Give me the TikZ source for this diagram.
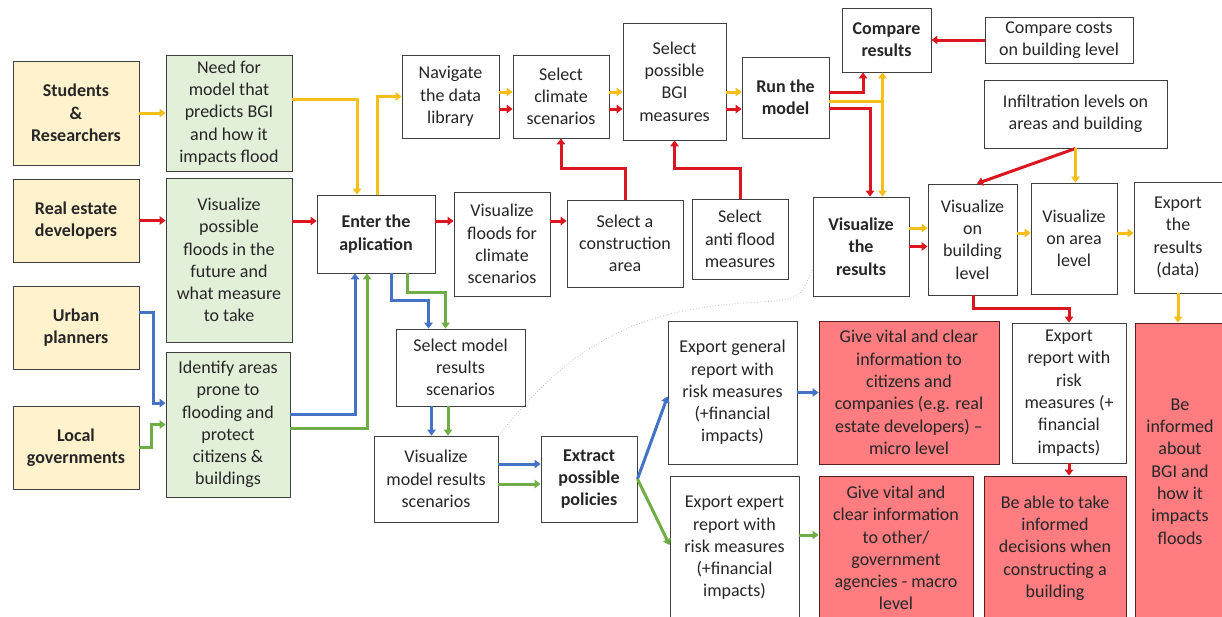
\documentclass[tikz,border=0pt]{standalone}
\usepackage{fontspec}
\setmainfont{Carlito}
\usetikzlibrary{arrows.meta}
\definecolor{actorfill}{HTML}{FFF2CC}
\definecolor{needfill}{HTML}{E2F0D9}
\definecolor{goalfill}{HTML}{FF7C80}
\definecolor{boxline}{HTML}{404040}
\definecolor{goalline}{HTML}{5A2020}
\definecolor{txt}{HTML}{262626}
\definecolor{ylw}{HTML}{F5BE1B}
\definecolor{rd}{HTML}{DA1720}
\definecolor{bl}{HTML}{4472C4}
\definecolor{gr}{HTML}{70AD47}

\begin{document}
\begin{tikzpicture}
	[x=1pt,y=-1pt,
	box/.style={draw=boxline,line width=0.9pt,fill=white,align=center,inner sep=0pt,text=txt,font=\fontsize{18}{22.3}\selectfont},
	actor/.style={box,fill=actorfill,font=\fontsize{18}{22.3}\selectfont\bfseries},
	need/.style={box,fill=needfill},
	goal/.style={box,draw=goalline,fill=goalfill},
	wh/.style 2 args={minimum width=#1pt,minimum height=#2pt},
	link/.style={line width=3pt,-{Triangle[length=6pt,width=8.5pt]}},
	ya/.style={link,ylw},
	ra/.style={link,rd},
	ba/.style={link,bl},
	ga/.style={link,gr},
	dotline/.style={gray!50,dotted,line width=0.8pt}]
	\useasboundingbox (0,0) rectangle (1222,616);

	\node[actor,wh={126}{104}] (stud) at (76,113) {Students\\ \&\\ Researchers};
	\node[actor,wh={126}{83}] (real) at (76,220.5) {Real estate\\ developers};
	\node[actor,wh={126}{83}] (urban) at (76,327.5) {Urban\\ planners};
	\node[actor,wh={126}{83}] (local) at (76,447.5) {Local\\ governments};

	\node[need,wh={126}{116}] (need) at (229,113) {Need for\\ model that\\ predicts BGI\\ and how it\\ impacts flood};
	\node[need,wh={126}{164}] (visfl) at (229,260) {Visualize\\ possible\\ floods in the\\ future and\\ what measure\\ to take};
	\node[need,wh={124}{145}] (ident) at (228,424.5) {Identify areas\\ prone to\\ flooding and\\ protect\\ citizens \&\\ buildings};

	\node[box,wh={118}{78},font=\fontsize{18}{22.3}\selectfont\bfseries] (enter) at (376,234) {Enter the\\ aplication};
	\node[box,wh={97}{83}] (nav) at (450.5,96.5) {Navigate\\ the data\\ library};
	\node[box,wh={96}{83}] (clim) at (561,96.5) {Select\\ climate\\ scenarios};
	\node[box,wh={103}{117}] (bgi) at (674.5,81.5) {Select\\ possible\\ BGI\\ measures};
	\node[box,wh={87}{81},font=\fontsize{18}{22.3}\selectfont\bfseries] (run) at (785.5,97.5) {Run the\\ model};
	\node[box,wh={89}{64},font=\fontsize{18}{22.3}\selectfont\bfseries] (cmpr) at (886.5,40) {Compare\\ results};
	\node[box,wh={148}{46}] (costs) at (1059,40) {Compare costs\\ on building level};
	\node[box,wh={183}{68}] (infil) at (1075.5,114) {Infiltration levels on\\ areas and building};

	\node[box,wh={96}{104}] (vfc) at (502,244) {Visualize\\ floods for\\ climate\\ scenarios};
	\node[box,wh={116}{87}] (constr) at (625,243.5) {Select a\\ construction\\ area};
	\node[box,wh={96}{80}] (anti) at (740,239) {Select\\ anti flood\\ measures};
	\node[box,wh={96}{99},font=\fontsize{18}{22.3}\selectfont\bfseries] (vres) at (861,246.5) {Visualize\\ the\\ results};
	\node[box,wh={89}{111}] (vbld) at (972.5,239.5) {Visualize\\ on\\ building\\ level};
	\node[box,wh={86}{111}] (varea) at (1074,238.5) {Visualize\\ on area\\ level};
	\node[box,wh={88}{111}] (expd) at (1178,237.5) {Export\\ the\\ results\\ (data)};

	\node[box,wh={129}{77}] (selm) at (460.5,367.5) {Select model\\ results\\ scenarios};
	\node[box,wh={124}{86}] (vmr) at (436,479) {Visualize\\ model results\\ scenarios};
	\node[box,wh={96}{86},font=\fontsize{18}{22.3}\selectfont\bfseries] (extr) at (589,479) {Extract\\ possible\\ policies};
	\node[box,wh={129}{143}] (expg) at (732.5,392.5) {Export general\\ report with\\ risk measures\\ (+financial\\ impacts)};
	\node[box,wh={129}{144}] (expe) at (734.5,548) {Export expert\\ report with\\ risk measures\\ (+financial\\ impacts)};
	\node[box,wh={114}{140}] (reprt) at (1069,393) {Export\\ report with\\ risk\\ measures (+\\ financial\\ impacts)};

	\node[goal,wh={180}{143}] (micro) at (909,392.5) {Give vital and clear\\ information to\\ citizens and\\ companies (e.g. real\\ estate developers) --\\ micro level};
	\node[goal,wh={154}{144}] (macro) at (896,548) {Give vital and\\ clear information\\ to other/\\ government\\ agencies - macro\\ level};
	\node[goal,wh={142}{144}] (able) at (1055,548) {Be able to take\\ informed\\ decisions when\\ constructing a\\ building};
	\node[goal,wh={90}{297}] (inform) at (1180,471.5) {Be\\ informed\\ about\\ BGI and\\ how it\\ impacts\\ floods};

	\coordinate (dotend) at (813,268);
	\draw[dotline] (vmr.north east) .. controls (575,340) and (640,308) .. (760,302) .. controls (800,299) .. (dotend);

	\draw[ya] (stud) -- (need);
	\draw[ya] ([yshift=14pt]need.east) -| ([xshift=-19pt]enter.north);
	\draw[ya] ([xshift=1pt]enter.north) |- (nav.west);
	\draw[ra] (real.east) -- (real.east -| visfl.west);
	\draw[ra] ([yshift=13pt]enter.west -| visfl.east) -- ([yshift=13pt]enter.west);
	\draw[ba] ([yshift=15pt]urban.east) -- ++(14,0) |- ([yshift=21.5pt]ident.west);
	\draw[ga] (local.east) -- ++(12,0) |- (ident.west);
	\draw[ba] ([yshift=10pt]ident.east) -| ([xshift=-21pt]enter.south);
	\draw[ga] ([yshift=-3.5pt]ident.east) -| ([xshift=-9pt]enter.south);

	\draw[ra] ([yshift=13pt]enter.east) -- ([yshift=13pt]enter.east -| vfc.west);
	\draw[ra] ([yshift=13pt]enter.east -| vfc.east) -- ([yshift=13pt]enter.east -| constr.west);
	\draw[ba] ([xshift=15pt]enter.south) -- ++(0,27) -| ([xshift=-32pt]selm.north);
	\draw[ga] ([xshift=31pt]enter.south) -- ++(0,19) -| ([xshift=-15pt]selm.north);
	\draw[ba] ([xshift=-29pt]selm.south) -- ([xshift=-29pt]selm.south |- vmr.north);
	\draw[ga] ([xshift=-12.5pt]selm.south) -- ([xshift=-12.5pt]selm.south |- vmr.north);
	\draw[ba] ([yshift=15pt]vmr.east) -- ([yshift=15pt]vmr.east -| extr.west);
	\draw[ga] ([yshift=-5pt]vmr.east) -- ([yshift=-5pt]vmr.east -| extr.west);
	\draw[ba] (extr.east) -- ([yshift=-4pt]expg.west);
	\draw[ga] (extr.east) -- ([yshift=3pt]expe.west);
	\draw[ba] (expg) -- (micro);
	\draw[ga] ([yshift=13pt]expe.east) -- ([yshift=13pt]expe.east -| macro.west);

	\draw[ya] ([yshift=4.5pt]nav.east) -- ([yshift=4.5pt]nav.east -| clim.west);
	\draw[ra] ([yshift=-12.5pt]nav.east) -- ([yshift=-12.5pt]nav.east -| clim.west);
	\draw[ya] ([yshift=4.5pt]nav.east -| clim.east) -- ([yshift=4.5pt]nav.east -| bgi.west);
	\draw[ra] ([yshift=-12.5pt]nav.east -| clim.east) -- ([yshift=-12.5pt]nav.east -| bgi.west);
	\draw[ya] ([yshift=4.5pt]nav.east -| bgi.east) -- ([yshift=4.5pt]nav.east -| run.west);
	\draw[ra] ([yshift=-12.5pt]nav.east -| bgi.east) -- ([yshift=-12.5pt]nav.east -| run.west);
	\draw[ra] (constr.north) -- ++(0,-31) -| (clim.south);
	\draw[ra] (anti.north) -- ++(0,-30) -| (bgi.south);

	\draw[ra] ([yshift=5.5pt]run.east) -| ([xshift=-23.5pt]cmpr.south);
	\draw[ya,-] ([yshift=-3.5pt]run.east) -- ++(53,0) coordinate (ysplit);
	\draw[ya] (ysplit) -- (ysplit |- cmpr.south);
	\draw[ya] (ysplit) -- (ysplit |- vres.north);
	\draw[ra] ([yshift=-10.5pt]run.east) -| ([xshift=9pt]vres.north);
	\draw[ra] (costs) -- (cmpr);

	\draw[ra] (infil.south) -- ([xshift=4.5pt]vbld.north);
	\draw[ya] (infil.south) -- (infil.south |- varea.north);
	\draw[ya] ([yshift=18.5pt]vres.east) -- ([yshift=18.5pt]vres.east -| vbld.west);
	\draw[ra] (vres.east) -- (vres.east -| vbld.west);
	\draw[ya] ([yshift=6.5pt]vbld.east) -- ([yshift=6.5pt]vbld.east -| varea.west);
	\draw[ya] ([yshift=6.5pt]vbld.east -| varea.east) -- ([yshift=6.5pt]vbld.east -| expd.west);
	\draw[ra] ([xshift=0.5pt]vbld.south) -- ++(0,13) -| (reprt.north);
	\draw[ra] (reprt.south) -- (reprt.south |- able.north);
	\draw[ya] (expd.south) -- (expd.south |- inform.north);
\end{tikzpicture}
\end{document}
